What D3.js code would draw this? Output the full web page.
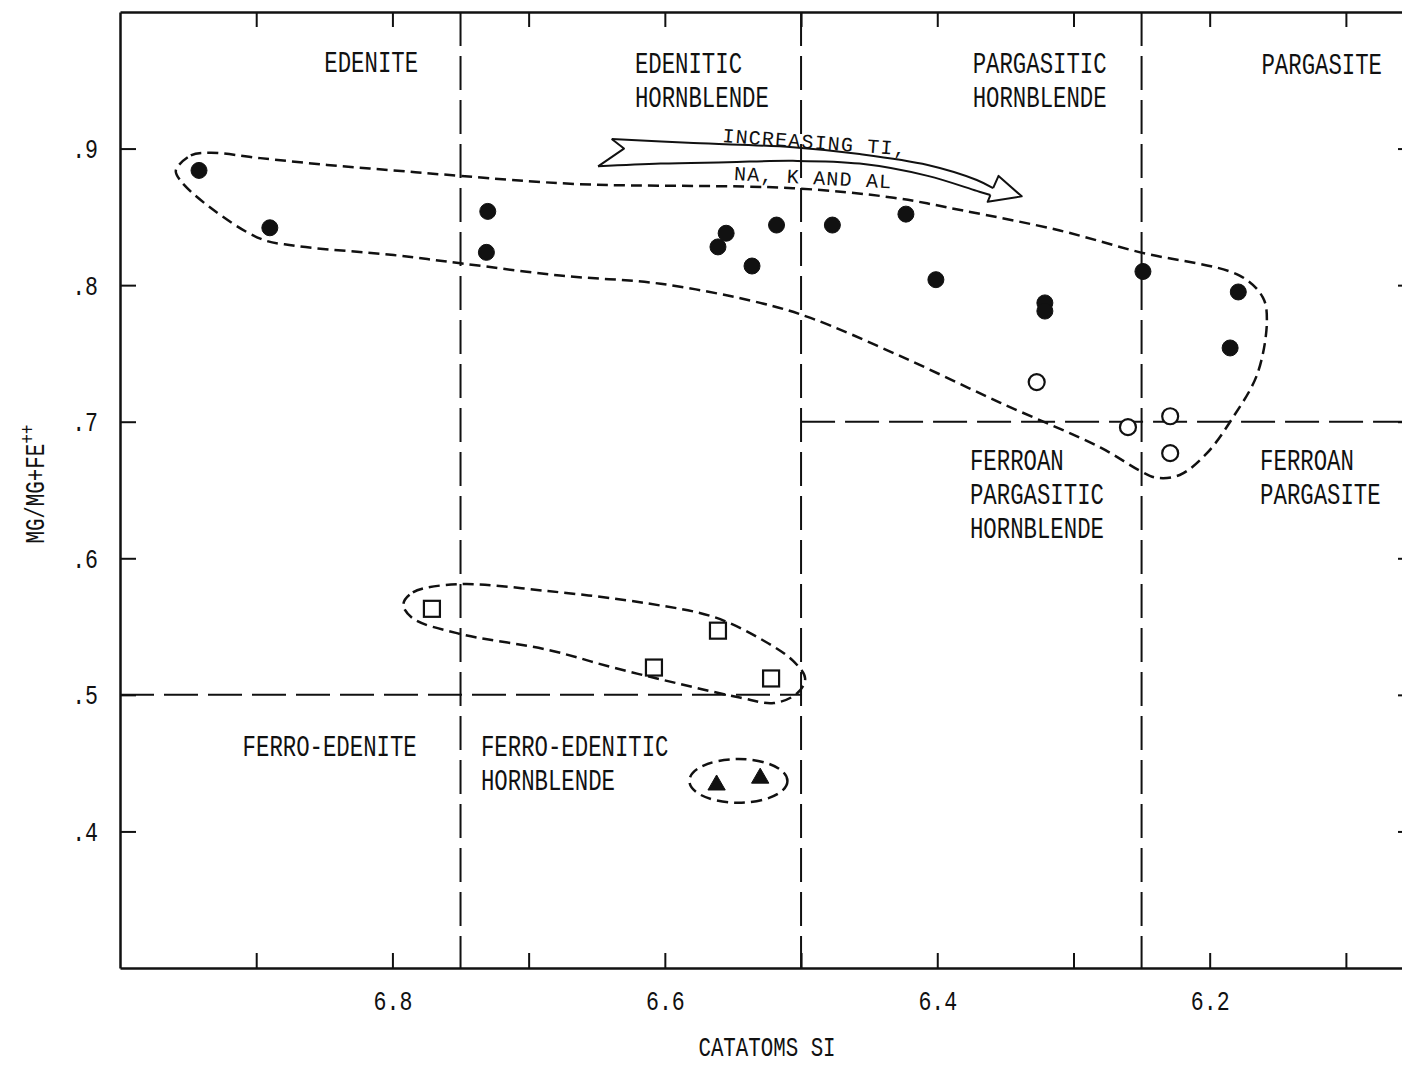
<!DOCTYPE html>
<html>
<head>
<meta charset="utf-8">
<script src="https://cdn.jsdelivr.net/npm/d3@7"></script>
<style>
  body { margin: 0; background: #fff; }
  svg { display: block; }
  text { font-family: "Liberation Mono", "DejaVu Sans Mono", monospace; fill: #111; }
</style>
</head>
<body>
<svg width="1402" height="1068"></svg>
<script>
// Amphibole analyses: catatoms Si vs Mg/(Mg+Fe++)
var filledSi = [6.942, 6.890, 6.730, 6.731, 6.561, 6.555, 6.518, 6.536, 6.477, 6.423, 6.401, 6.321, 6.321, 6.249, 6.179, 6.185];
var filledMg = [0.884, 0.842, 0.854, 0.824, 0.828, 0.838, 0.844, 0.814, 0.844, 0.852, 0.804, 0.787, 0.781, 0.810, 0.795, 0.754];

var openSi = [6.327, 6.260, 6.229, 6.229];
var openMg = [0.729, 0.696, 0.704, 0.677];

var squareSi = [6.771, 6.561, 6.608, 6.522];
var squareMg = [0.563, 0.547, 0.520, 0.512];

var triangleSi = [6.562, 6.530];
var triangleMg = [0.434, 0.439];

// axis ticks
var siTicks = [6.9, 6.8, 6.7, 6.6, 6.5, 6.4, 6.3, 6.2, 6.1];
var siLabels = [6.8, 6.6, 6.4, 6.2];
var mgTicks = [0.4, 0.5, 0.6, 0.7, 0.8, 0.9];

// field boundaries
var boundarySi = [6.75, 6.5, 6.25];
var ferroanLines = [
  {mg: 0.7, from: 6.5, to: 6.05},
  {mg: 0.5, from: 7.0, to: 6.5}
];

// hand drawn envelopes, [si, mg]
var envelopeMain = [
  [6.959, 0.884], [6.948, 0.895], [6.934, 0.897], [6.897, 0.893], [6.848, 0.888],
  [6.799, 0.884], [6.750, 0.880], [6.664, 0.874], [6.506, 0.871], [6.432, 0.864],
  [6.383, 0.855], [6.310, 0.840], [6.251, 0.824], [6.178, 0.807], [6.161, 0.791],
  [6.158, 0.774], [6.165, 0.735], [6.183, 0.703], [6.202, 0.677], [6.222, 0.661],
  [6.239, 0.659], [6.251, 0.664], [6.280, 0.681], [6.354, 0.714], [6.427, 0.748],
  [6.493, 0.776], [6.530, 0.787], [6.603, 0.801], [6.677, 0.807], [6.750, 0.816],
  [6.799, 0.822], [6.873, 0.829], [6.897, 0.834], [6.934, 0.857], [6.956, 0.877]
];
var envelopeSquares = [
  [6.792, 0.566], [6.785, 0.575], [6.752, 0.581], [6.686, 0.576], [6.613, 0.567],
  [6.564, 0.557], [6.528, 0.540], [6.506, 0.525], [6.497, 0.512], [6.503, 0.501],
  [6.520, 0.494], [6.545, 0.498], [6.589, 0.508], [6.638, 0.520], [6.686, 0.533],
  [6.752, 0.545], [6.785, 0.556]
];
var envelopeTriangles = {si: 6.546, mg: 0.437, rSi: 0.036, rMg: 0.016};

// trend arrow
var arrowTop = [[6.639, 0.907], [6.579, 0.904], [6.506, 0.901], [6.457, 0.896], [6.407, 0.888], [6.371, 0.877], [6.359, 0.871]];
var arrowBottom = [[6.649, 0.887], [6.603, 0.889], [6.554, 0.890], [6.506, 0.891], [6.457, 0.889], [6.407, 0.880], [6.371, 0.869], [6.361, 0.866]];
var arrowHead = [[6.359, 0.871], [6.355, 0.880], [6.338, 0.865], [6.363, 0.861], [6.361, 0.866]];
var arrowTail = [[6.639, 0.907], [6.630, 0.900], [6.649, 0.887]];

var fieldLabels = [
  {lines: ["EDENITE"], si: 6.850, mg: 0.964},
  {lines: ["EDENITIC", "HORNBLENDE"], si: 6.622, mg: 0.963},
  {lines: ["PARGASITIC", "HORNBLENDE"], si: 6.374, mg: 0.963},
  {lines: ["PARGASITE"], si: 6.162, mg: 0.962},
  {lines: ["FERROAN", "PARGASITIC", "HORNBLENDE"], si: 6.376, mg: 0.672},
  {lines: ["FERROAN", "PARGASITE"], si: 6.163, mg: 0.672},
  {lines: ["FERRO-EDENITE"], si: 6.910, mg: 0.463},
  {lines: ["FERRO-EDENITIC", "HORNBLENDE"], si: 6.735, mg: 0.463}
];

var svg = d3.select("svg");
var x = d3.scaleLinear().domain([7.0, 6.05]).range([120, 1414]);
var y = d3.scaleLinear().domain([0.3, 1.0]).range([968, 12]);

// the original lettering is a tall, narrow typewriter face
var squeezeX = 0.77;

function squeeze(text) {
  text.each(function() {
    var t = d3.select(this), x0 = +t.attr("x") || 0;
    t.attr("x", x0 / squeezeX).attr("transform", "scale(" + squeezeX + ",1)");
  });
}

function styleAxis(g) {
  g.attr("font-family", null).attr("font-size", null);
  g.select(".domain").attr("stroke", "#111").attr("stroke-width", 2.5);
  g.selectAll(".tick line").attr("stroke", "#111").attr("stroke-width", 2);
  g.selectAll(".tick text").style("font-size", "28px").call(squeeze);
}

var siFormat = function(d) { return siLabels.indexOf(d) != -1 ? d.toFixed(1) : ""; };

svg.append("g")
  .attr("transform", "translate(0," + y(0.3) + ")")
  .call(d3.axisBottom(x).tickValues(siTicks).tickSizeInner(-15).tickSizeOuter(0).tickPadding(22).tickFormat(siFormat))
  .call(styleAxis);

svg.append("g")
  .attr("transform", "translate(0," + y(1.0) + ")")
  .call(d3.axisTop(x).tickValues(siTicks).tickSizeInner(-15).tickSizeOuter(0).tickFormat(""))
  .call(styleAxis);

svg.append("g")
  .attr("transform", "translate(" + x(7.0) + ",0)")
  .call(d3.axisLeft(y).tickValues(mgTicks).tickSizeInner(-16).tickSizeOuter(0).tickPadding(22)
    .tickFormat(function(d) { return d3.format(".1f")(d).replace(/^0/, ""); }))
  .call(styleAxis);

svg.append("g")
  .attr("transform", "translate(" + x(6.05) + ",0)")
  .call(d3.axisRight(y).tickValues(mgTicks).tickSizeInner(-16).tickSizeOuter(0).tickFormat(""))
  .call(styleAxis);

// axis titles
svg.append("text")
  .attr("transform", "translate(" + (x.range()[0] + x.range()[1]) / 2 + "," + (y(0.3) + 88) + ") scale(" + squeezeX + ",1)")
  .attr("text-anchor", "middle")
  .style("font-size", "27px")
  .text("CATATOMS SI");

var yTitle = svg.append("text")
  .attr("transform", "translate(44,484) rotate(-90) scale(" + squeezeX + ",1)")
  .attr("text-anchor", "middle")
  .style("font-size", "27px");
yTitle.append("tspan").text("MG/MG+FE");
yTitle.append("tspan").attr("dy", "-0.5em").style("font-size", "21px").text("++");

// field boundaries
var bounds = svg.append("g")
  .attr("fill", "none")
  .attr("stroke", "#111")
  .attr("stroke-width", 2)
  .attr("stroke-dasharray", "34,10");

bounds.selectAll(".vline")
  .data(boundarySi)
  .enter().append("line")
    .attr("x1", function(d) { return x(d); })
    .attr("x2", function(d) { return x(d); })
    .attr("y1", y(1.0))
    .attr("y2", y(0.3));

bounds.selectAll(".hline")
  .data(ferroanLines)
  .enter().append("line")
    .attr("x1", function(d) { return x(d.from); })
    .attr("x2", function(d) { return x(d.to); })
    .attr("y1", function(d) { return y(d.mg); })
    .attr("y2", function(d) { return y(d.mg); });

// field names
fieldLabels.forEach(function(l) {
  var t = svg.append("g")
    .attr("transform", "translate(" + x(l.si) + "," + y(l.mg) + ")")
    .append("text")
      .attr("transform", "scale(" + squeezeX + ",1)")
      .style("font-size", "29px");
  l.lines.forEach(function(s, i) {
    t.append("tspan")
      .attr("x", 0)
      .attr("dy", i == 0 ? "0.36em" : "34px")
      .text(s);
  });
});

// envelopes
var closedLine = d3.line()
  .x(function(d) { return x(d[0]); })
  .y(function(d) { return y(d[1]); })
  .curve(d3.curveCatmullRomClosed.alpha(0.5));

var env = svg.append("g")
  .attr("fill", "none")
  .attr("stroke", "#111")
  .attr("stroke-width", 2.5)
  .attr("stroke-dasharray", "11,6");

env.selectAll("path")
  .data([envelopeMain, envelopeSquares])
  .enter().append("path")
    .attr("d", closedLine);

env.append("ellipse")
  .attr("cx", x(envelopeTriangles.si))
  .attr("cy", y(envelopeTriangles.mg))
  .attr("rx", Math.abs(x(envelopeTriangles.si + envelopeTriangles.rSi) - x(envelopeTriangles.si)))
  .attr("ry", Math.abs(y(envelopeTriangles.mg + envelopeTriangles.rMg) - y(envelopeTriangles.mg)));

// trend arrow
var openLine = d3.line()
  .x(function(d) { return x(d[0]); })
  .y(function(d) { return y(d[1]); })
  .curve(d3.curveCatmullRom.alpha(0.5));
var straight = d3.line()
  .x(function(d) { return x(d[0]); })
  .y(function(d) { return y(d[1]); });

var arrow = svg.append("g")
  .attr("fill", "none")
  .attr("stroke", "#111")
  .attr("stroke-width", 2)
  .attr("stroke-linejoin", "round");
arrow.append("path").attr("d", openLine(arrowTop));
arrow.append("path").attr("d", openLine(arrowBottom));
arrow.append("path").attr("d", straight(arrowHead));
arrow.append("path").attr("d", straight(arrowTail));

svg.append("text")
  .attr("transform", "translate(" + x(6.490) + "," + y(0.905) + ") rotate(4.2)")
  .attr("text-anchor", "middle")
  .attr("dy", "0.35em")
  .style("font-size", "20px")
  .style("letter-spacing", "1.2px")
  .text("INCREASING TI,");

svg.append("text")
  .attr("transform", "translate(" + x(6.491) + "," + y(0.879) + ") rotate(3)")
  .attr("text-anchor", "middle")
  .attr("dy", "0.35em")
  .style("font-size", "20px")
  .style("letter-spacing", "1.2px")
  .text("NA, K AND AL");

// points
var pts = svg.append("g").attr("stroke", "#111");

pts.selectAll(".filled")
  .data(d3.zip(filledSi, filledMg))
  .enter().append("circle")
    .attr("cx", function(d) { return x(d[0]); })
    .attr("cy", function(d) { return y(d[1]); })
    .attr("r", 8)
    .attr("fill", "#111")
    .attr("stroke-width", 1);

pts.selectAll(".open")
  .data(d3.zip(openSi, openMg))
  .enter().append("circle")
    .attr("cx", function(d) { return x(d[0]); })
    .attr("cy", function(d) { return y(d[1]); })
    .attr("r", 8)
    .attr("fill", "#fff")
    .attr("stroke-width", 2.2);

pts.selectAll(".square")
  .data(d3.zip(squareSi, squareMg))
  .enter().append("rect")
    .attr("x", function(d) { return x(d[0]) - 8; })
    .attr("y", function(d) { return y(d[1]) - 8; })
    .attr("width", 16)
    .attr("height", 16)
    .attr("fill", "#fff")
    .attr("stroke-width", 2.2);

pts.selectAll(".tri")
  .data(d3.zip(triangleSi, triangleMg))
  .enter().append("path")
    .attr("transform", function(d) { return "translate(" + x(d[0]) + "," + y(d[1]) + ")"; })
    .attr("d", d3.symbol(d3.symbolTriangle, 130))
    .attr("fill", "#111")
    .attr("stroke-width", 1);
</script>
</body>
</html>
